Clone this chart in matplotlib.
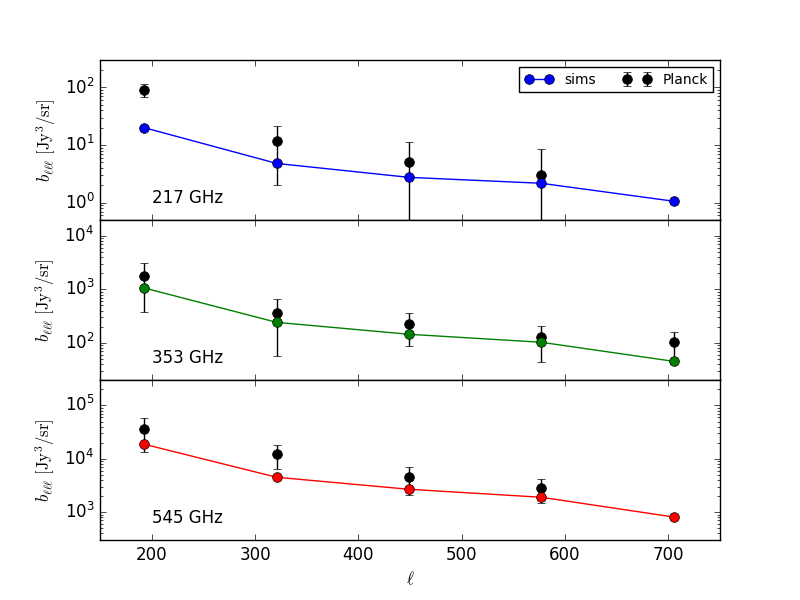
import matplotlib
matplotlib.use("Agg")
import matplotlib.pyplot as plt
import numpy as np

plt.style.use('classic')

ell = [193, 321, 449, 577, 705]
freqs = ['217 GHz', '353 GHz', '545 GHz']
colors = ['b', 'g', 'r']

sims_217 = [20.0, 4.8, 2.75, 2.17, 1.06]
sims_353 = [1060, 241, 144, 102, 44.8]
sims_545 = [18700, 4500, 2680, 1900, 810]

planck_ell_217 = [193, 321, 449, 577]
planck_217 = [90, 11.6, 5.1, 3.0]
planck_err_217 = [23, 9.6, 6.0, 5.4]

planck_ell_353 = [193, 321, 449, 577, 705]
planck_353 = [1780, 357, 221, 126, 102]
planck_err_353 = [1400, 300, 133, 83, 55]

planck_ell_545 = [193, 321, 449, 577]
planck_545 = [36200, 12300, 4500, 2800]
planck_err_545 = [23000, 6000, 2450, 1330]

ylims = [(0.5, 300), (20, 2e4), (300, 3e5)]

sims = [sims_217, sims_353, sims_545]
p_ell = [planck_ell_217, planck_ell_353, planck_ell_545]
p_val = [planck_217, planck_353, planck_545]
p_err = [planck_err_217, planck_err_353, planck_err_545]

fig, axes = plt.subplots(3, 1, sharex=True, figsize=(8, 6))
fig.subplots_adjust(left=0.125, right=0.9, bottom=0.1, top=0.9, hspace=0)

for i, ax in enumerate(axes):
    ax.set_yscale('log')
    hp = ax.errorbar(p_ell[i], p_val[i], yerr=p_err[i], fmt='o', color='k',
                     ecolor='k', capsize=3, markersize=7, zorder=2)
    hs, = ax.plot(ell, sims[i], '-o', color=colors[i], markersize=7, zorder=3)
    ax.set_ylim(*ylims[i])
    ax.set_xlim(150, 750)
    ax.set_ylabel(r'$b_{\ell\ell\ell}\ [\mathrm{Jy}^3/\mathrm{sr}]$', fontsize=12)
    ax.text(0.084, 0.08, freqs[i], transform=ax.transAxes, fontsize=12,
            ha='left', va='bottom')
    if i == 0:
        ax.legend([hs, hp], ['sims', 'Planck'], loc='upper right', ncol=2,
                  fontsize=10, numpoints=2, borderaxespad=0.5)

axes[-1].set_xlabel(r'$\ell$', fontsize=12)
axes[-1].set_xticks([200, 300, 400, 500, 600, 700])

fig.savefig('out.png', dpi=100)
